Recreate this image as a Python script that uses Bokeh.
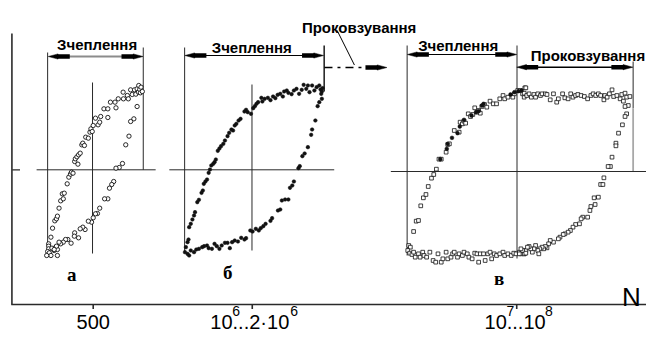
from bokeh.plotting import figure
from bokeh.models import Range1d
from bokeh.core.properties import value
from bokeh.embed import file_html
from bokeh.resources import INLINE

# ---------------------------------------------------------------- data
# Hysteresis loops.  Each panel has its own
# displacement / force units (read on a 1/3-pixel grid, force axis
# pointing down), mapped onto the page by the panel's own ranges.

# panel "а" (N = 500)  -- open circles
a_upper = [(28, 505), (28, 512), (28, 520), (25, 528), (30, 532), (35, 540), (22, 540),
           (38, 518), (45, 525), (50, 515), (55, 522), (55, 540), (35, 485), (40, 458),
           (47, 436), (52, 430), (55, 422), (60, 398), (65, 376), (70, 355), (73, 370),
           (76, 353), (85, 325), (90, 305), (95, 296), (98, 290), (103, 293), (108, 258),
           (110, 250), (115, 244), (118, 266), (120, 238), (125, 233), (130, 208), (133, 203),
           (138, 210), (142, 185), (150, 188), (155, 170), (158, 160), (162, 168), (165, 150),
           (172, 128), (180, 148), (185, 140), (188, 123), (198, 100), (210, 100), (210, 126),
           (218, 80), (232, 80), (235, 97), (242, 70), (257, 50), (258, 70), (270, 60),
           (273, 70), (280, 43), (285, 57), (292, 43), (296, 56), (300, 40), (304, 50),
           (305, 30), (308, 42), (310, 52), (312, 35), (316, 48)]
a_lower = [(300, 93), (290, 130), (280, 138), (275, 182), (265, 208), (255, 264), (245, 276),
           (235, 278), (228, 318), (222, 327), (215, 338), (210, 370), (200, 370), (185, 398),
           (178, 414), (172, 415), (165, 427), (160, 440), (150, 437), (140, 462), (133, 455),
           (125, 460), (120, 487), (108, 472), (107, 482), (97, 503), (87, 492), (80, 492),
           (73, 500), (65, 505), (60, 500), (52, 512), (45, 522)]

# panel "б" (N = 10^6...2*10^6) -- filled dots
b_upper = [(38, 492), (35, 500), (30, 515), (27, 530), (40, 455), (45, 445), (50, 432),
           (55, 420), (58, 410), (65, 380), (70, 373), (78, 352), (82, 345), (85, 325),
           (90, 318), (95, 312), (100, 292), (104, 282), (108, 270), (114, 265), (118, 260),
           (122, 252), (128, 226), (133, 219), (138, 212), (145, 205), (150, 195), (158, 182),
           (163, 172), (170, 162), (175, 165), (180, 150), (185, 145), (192, 135), (198, 130),
           (210, 108), (215, 103), (220, 110), (230, 115), (237, 98), (242, 92), (247, 85),
           (252, 80), (262, 67), (265, 78), (272, 70), (282, 67), (290, 74), (298, 63),
           (305, 68), (312, 58), (320, 55), (328, 63), (332, 48), (340, 45), (345, 52),
           (355, 56), (362, 45), (370, 40), (378, 55), (386, 43), (392, 28), (400, 40),
           (405, 30), (410, 50), (418, 30), (425, 45), (432, 35), (440, 30), (444, 42),
           (448, 48), (450, 38), (446, 55)]
b_lower = [(448, 70), (440, 80), (435, 92), (428, 135), (418, 162), (415, 178), (405, 215),
           (395, 234), (388, 242), (380, 272), (376, 278), (362, 318), (357, 330), (350, 337),
           (345, 372), (335, 372), (325, 375), (320, 402), (313, 405), (295, 428), (290, 436),
           (275, 445), (268, 452), (260, 458), (254, 465), (245, 460), (235, 468), (228, 465),
           (215, 488), (210, 492), (200, 487), (190, 498), (180, 495), (172, 500), (165, 518),
           (158, 502), (150, 502), (140, 510), (133, 520), (125, 512), (118, 505), (110, 520),
           (100, 518), (95, 510), (86, 512), (80, 515), (70, 520), (62, 522), (55, 530),
           (45, 525), (40, 540), (35, 535)]

# panel "в" (N = 10^7...10^8) -- open squares, left half
v_upper = [(40, 453), (48, 422), (55, 420), (62, 376), (70, 352), (78, 342), (85, 318),
           (95, 293), (102, 282), (110, 266), (118, 236), (125, 236), (140, 215), (145, 192),
           (150, 190), (165, 150), (180, 155), (183, 125), (190, 130), (195, 122), (200, 128),
           (208, 100), (215, 108), (222, 102), (228, 82), (235, 95), (240, 90), (245, 98),
           (250, 78), (258, 72), (265, 80), (275, 62), (285, 70), (295, 70), (305, 55),
           (315, 45), (320, 55), (330, 50), (345, 50), (350, 40), (360, 30), (368, 30),
           (382, 22), (380, 50), (375, 40)]
v_bottom = [(25, 495), (30, 500), (22, 510), (28, 518), (35, 522), (40, 515), (45, 530),
            (55, 520), (60, 530), (68, 515), (72, 525), (80, 530), (90, 515), (100, 540),
            (108, 545), (115, 520), (125, 545), (130, 535), (140, 515), (145, 535), (155, 530),
            (160, 520), (165, 515), (175, 530), (180, 520), (190, 525), (195, 515), (205, 520),
            (210, 530), (220, 535), (228, 518), (235, 520), (240, 545), (245, 520), (255, 520),
            (260, 540), (268, 520), (275, 515), (280, 535), (288, 520), (295, 525), (305, 520),
            (315, 515), (320, 525), (330, 520), (340, 525), (348, 518), (355, 520), (365, 515),
            (370, 520), (380, 520), (385, 510)]
v_filled = [(122, 236), (142, 205), (145, 190), (158, 172), (175, 158), (182, 138),
            (195, 118), (218, 105), (232, 95), (240, 92), (250, 75), (255, 70), (338, 42),
            (350, 35), (362, 32), (372, 30)]
# panel "в", right half (slip plateau, unloading, lower branch)
v_right = [(25, 22), (20, 38), (28, 45), (35, 40), (42, 50), (50, 42), (55, 50), (62, 40),
           (70, 45), (75, 40), (85, 40), (90, 42), (100, 58), (110, 40), (120, 65), (125, 55),
           (138, 40), (145, 52), (155, 55), (163, 40), (170, 50), (178, 45), (185, 42),
           (195, 45), (205, 48), (215, 55), (225, 45), (232, 40), (240, 45), (248, 40),
           (255, 45), (265, 58), (268, 45), (275, 50), (282, 40), (290, 28), (295, 48),
           (305, 45), (315, 55), (320, 42), (330, 38), (335, 50), (345, 48), (325, 62),
           (340, 75), (330, 78), (335, 100), (330, 108), (322, 133), (310, 158), (302, 188),
           (302, 196), (290, 230), (285, 258), (278, 258), (265, 292), (255, 312), (262, 312),
           (248, 350), (235, 352), (238, 372), (225, 378), (222, 390), (215, 410), (200, 410),
           (195, 415), (190, 430), (178, 432), (170, 440), (162, 450), (155, 455), (145, 460),
           (140, 462), (130, 470), (125, 475), (110, 485), (100, 480), (95, 490), (90, 502),
           (85, 498), (80, 505), (75, 500), (68, 505), (62, 510), (55, 495), (50, 505),
           (45, 515), (40, 505), (35, 498), (30, 500), (20, 520), (15, 510), (10, 505),
           (5, 520), (65, 520), (25, 518)]

# bottom axis: cycle counts
tick_pos = [95, 258, 529]
tick_base = ["500", "10...2·10", "10...10"]
tick_sup = [[], ["6", "6"], ["7", "8"]]

adhesion = "Зчеплення"
slip = "Проковзування"
panel_names = ["а", "б", "в"]

# ---------------------------------------------------------------- figure
W, H = 646, 334
X0, X1, Y0, Y1 = 0, 662, 0, H
p = figure(width=W, height=H, output_backend="svg", toolbar_location=None,
           x_range=Range1d(X0, X1), y_range=Range1d(Y1, Y0),
           x_axis_type=None, y_axis_type=None, min_border=0)
p.grid.visible = False
p.outline_line_color = None
p.background_fill_color = "white"
p.border_fill_color = "white"


def panel_ranges(name, ox, oy, k=3.0):
    p.extra_x_ranges[name] = Range1d((X0 - ox) * k, (X1 - ox) * k)
    p.extra_y_ranges[name] = Range1d((Y1 - oy) * k, (Y0 - oy) * k)


panel_ranges("a", 40, 75)
panel_ranges("b", 180, 75)
panel_ranges("v", 410, 80)
panel_ranges("v2", 530, 80)

FONT = value("Liberation Sans")
SERIF = value("Liberation Serif")
LC = "#2a2a2a"


def seg(x0, y0, x1, y1, color=LC, w=1.0, dash="solid"):
    p.segment(x0=[x0], y0=[y0], x1=[x1], y1=[y1], line_color=color, line_width=w,
              line_dash=dash)


def txt(x, y, s, size, bold=False, align="center", font=FONT):
    p.text(x=[x], y=[y], text=[s], text_font=font, text_font_size=f"{size}px",
           text_font_style="bold" if bold else "normal", text_align=align,
           text_baseline="alphabetic", text_color="black")


def head(tip, y, direction):
    d = direction
    p.patch(x=[tip, tip - d * 10, tip - d * 10], y=[y, y - 2.6, y + 2.6],
            fill_color="black", line_color="black", line_width=0.5)
    seg(tip - d * 9, y, tip - d * 22, y, color="black", w=4.4)


def double_arrow(x0, x1, y, shaft="black", w=1.2):
    seg(x0 + 10, y, x1 - 10, y, color=shaft, w=w)
    head(x0, y, -1)
    head(x1, y, 1)


# axes of the whole figure
seg(11.7, 33, 11.7, 304, w=1.6)
seg(11, 304, X1, 304, w=1.6)
seg(12, 169.3, 20, 169.3, w=1.2)
for t in tick_pos:
    seg(t, 304, t, 308.5, w=1.6)

# ---- panel а
seg(48.3, 52, 48.3, 255)
seg(94.3, 82, 94.3, 253)
seg(146.3, 47, 146.3, 169.3)
seg(37, 169.3, 159, 169.3)
double_arrow(49, 146, 56, shaft="#8c8c8c", w=2.2)
txt(99, 43.5, adhesion, 15, bold=True)

# ---- panel б
seg(188.7, 47, 188.7, 251)
seg(257.7, 84, 257.7, 250)
seg(331.7, 45, 331.7, 91, w=1.6)
seg(173, 169.3, 342, 169.3)
double_arrow(189, 331, 55)
txt(257.5, 47, adhesion, 15, bold=True)
seg(332, 67, 372, 67, color="black", w=1.3, dash="8 5 3 5")
head(396, 67, 1)
seg(345, 30, 362.7, 64.5, color="black", w=1.0)
txt(367.5, 26.5, slip, 15, bold=True)

# ---- panel в
seg(416.7, 45, 416.7, 255)
seg(529.3, 45, 529.3, 258)
seg(648.3, 61, 648.3, 108)
seg(648.3, 108, 648.3, 171, color="#a8a8a8", w=1.8)
seg(400, 171, X1, 171)
double_arrow(417, 529, 54)
double_arrow(529, 648, 66.7, w=1.6)
txt(469, 45, adhesion, 15, bold=True)
txt(602, 55, slip, 15, bold=True)

# ---- loops


def pts(data):
    xs, ys = zip(*data)
    return list(xs), list(ys)


for data in (a_upper, a_lower):
    xs, ys = pts(data)
    p.scatter(xs, ys, x_range_name="a", y_range_name="a", marker="circle", size=4.3,
              line_color="#111111", line_width=0.9, fill_color="white")
for data in (b_upper, b_lower):
    xs, ys = pts(data)
    p.scatter(xs, ys, x_range_name="b", y_range_name="b", marker="circle", size=3.6,
              line_color="#111111", line_width=0.5, fill_color="#111111")
for data in (v_upper, v_bottom):
    xs, ys = pts(data)
    p.scatter(xs, ys, x_range_name="v", y_range_name="v", marker="square", size=3.7,
              line_color="#111111", line_width=0.8, fill_color="white")
xs, ys = pts(v_right)
p.scatter(xs, ys, x_range_name="v2", y_range_name="v2", marker="square", size=3.7,
          line_color="#111111", line_width=0.8, fill_color="white")
xs, ys = pts(v_filled)
p.scatter(xs, ys, x_range_name="v", y_range_name="v", marker="circle", size=3.8,
          line_color="#111111", line_width=0.5, fill_color="#111111")

# panel letters
txt(73, 274, panel_names[0], 19, bold=True, font=SERIF)
txt(233, 272, panel_names[1], 19, bold=True, font=SERIF)
txt(511, 278, panel_names[2], 19, bold=True, font=SERIF)

# bottom tick labels (base text + raised exponents), kept inside the frame
BL, SL = 321, 310
txt(tick_pos[0], BL, tick_base[0], 20)
txt(215, BL, tick_base[1], 20, align="left")
txt(237.5, SL, tick_sup[1][0], 14, align="left")
txt(297, SL, tick_sup[1][1], 14, align="left")
txt(496, BL, tick_base[2], 20, align="left")
txt(518.5, SL, tick_sup[2][0], 14, align="left")
txt(558, SL, tick_sup[2][1], 14, align="left")
txt(637, 296, "N", 26, align="left")

open("out.html", "w").write(file_html(p, INLINE))
